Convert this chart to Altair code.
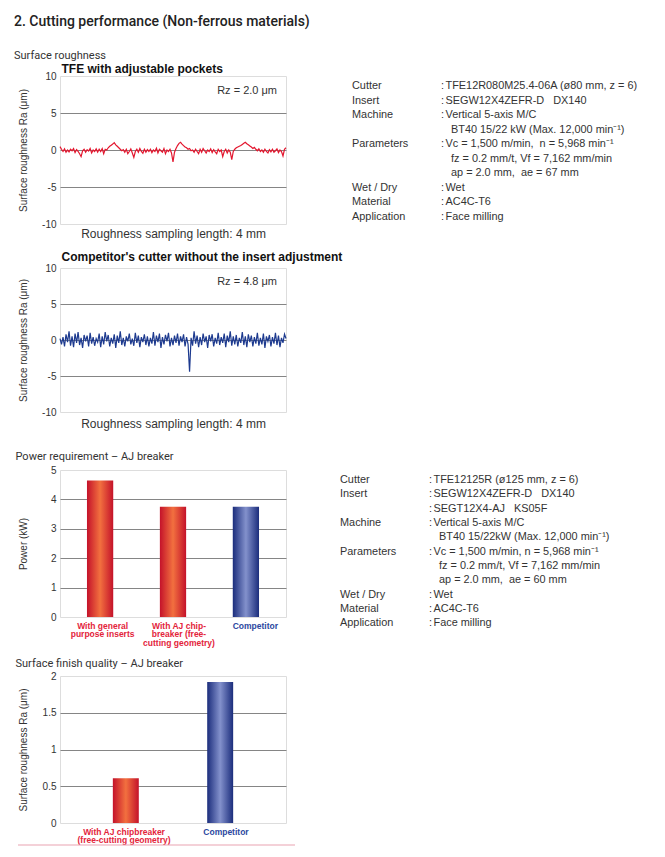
import altair as alt
import pandas as pd

# ---------------- text ----------------
HEADING = "2. Cutting performance (Non-ferrous materials)"
SECTION1 = "Surface roughness"
TITLE_TFE = "TFE with adjustable pockets"
TITLE_COMP = "Competitor's cutter without the insert adjustment"
X_TITLE = "Roughness sampling length: 4 mm"
Y_TITLE_RA = "Surface roughness Ra (μm)"
RZ_TFE = "Rz = 2.0 μm"
RZ_COMP = "Rz = 4.8 μm"
POWER_TITLE = "Power requirement – AJ breaker"
FINISH_TITLE = "Surface finish quality – AJ breaker"

# ---------------- roughness profiles (μm) ----------------
ra_ticks = [-10, -5, 0, 5, 10]

tfe_profile = [
    0.45, 0.1, -0.2, 0.15, -0.3, 0.0, -0.25, 0.1,
    -0.1, 0.2, -0.35, 0.05, -0.2, -0.5, -0.9,
    -0.1, 0.1, -0.3, 0.05, -0.15, 0.2, -0.4, 0.0, -0.2, 0.15,
    -0.3, 0.1, -0.2, 0.2, -0.5, 0.1, 0.0, 0.3,
    0.5, 0.65, 0.8, 1.0,
    0.7, 0.5, 0.3, 0.1, -0.1, 0.05,
    -0.3, 0.1, -0.5, -0.2, 0.15, -0.4, -1.0, -0.2,
    0.1, -0.3, 0.2, -0.2, -0.45, 0.1, -0.3, 0.05, -0.2, 0.1,
    -0.35, 0.0, -0.2, 0.25, -0.4, 0.1, -0.1, -0.3, 0.2, -0.5, 0.0, -0.2, 0.1,
    -0.4, -1.6, -0.3, 0.2,
    0.6, 0.9, 1.05, 0.8,
    0.6, 0.4, 0.3, 0.1, 0.2, -0.1, 0.0,
    -0.3, 0.1, -0.2, -0.5, 0.1, -0.3, 0.2, -0.1, -0.4, 0.0, -0.2, 0.15, -0.35,
    0.05, -0.25, -0.5, 0.1, -0.2, 0.0,
    -0.9, -0.2, 0.1, -0.4, 0.0, -0.3, -1.3, -0.2, 0.1, 0.3, 0.4,
    0.5, 0.6, 0.75, 0.9, 1.05, 0.85, 0.7,
    0.55, 0.4, 0.2, 0.35, 0.1, -0.1, 0.15, -0.2,
    0.0, -0.3, 0.1, -0.2, -0.4, 0.05, -0.25, 0.1, -0.3, -0.1, 0.15, -0.35,
    0.0, -0.2, -0.8, 0.1, 0.3,
]

comp_profile = [
    0.2, -0.6, 0.4, -0.9, 0.8, -0.3, 1.2, -0.8, 0.5, -1.0,
    0.9, -0.4, 1.1, -0.7, 0.3, -1.1, 0.7, -0.2, 0.6, -0.9,
    1.0, -0.5, 0.4, -0.8, 0.2, -0.3, 0.9, -1.0, 0.5, -0.6,
    1.1, -0.2, 0.7, -0.9, 0.3, -0.5, 0.8, -1.1, 0.6, -0.4,
    1.2, -0.7, 0.3, -0.9, 0.5, -0.2, 0.9, -0.6, 0.2, -0.8,
    1.0, -0.4, 0.6, -1.0, 0.4, -0.3, 0.8, -0.7, 0.5, -0.9,
    0.3, -0.5, 1.1, -0.8, 0.6, -0.3, 0.9, -1.1, 0.4, -0.6,
    0.7, -0.2, 1.0, -0.9, 0.3, -0.7, 0.6, -0.4, 0.9, -0.8,
    0.5, -0.3, 0.8, -0.9, 0.4, -0.6, -4.4, 0.3, -0.8, 1.2,
    -0.5, 0.6, -1.0, 0.4, -0.7, 0.9, -0.3, 0.5, -1.1, 0.7,
    -0.2, 0.8, -0.9, 0.3, -0.5, 1.0, -0.7, 0.4, -0.4, 0.9,
    -1.0, 0.6, -0.3, 1.2, -0.8, 0.5, -0.6, 0.7, -0.9, 0.3,
    -0.4, 1.1, -0.7, 0.5, -1.0, 0.8, -0.3, 0.6, -0.9, 0.4,
    -0.5, 1.0, -0.8, 0.3, -0.6, 0.9, -1.1, 0.5, -0.2, 0.7,
    -0.9, 0.4, -0.5, 1.0, -0.7, 0.6, -1.0, 0.3, -0.4, 0.8, 0.2,
]

# ---------------- power requirement (kW) ----------------
power_labels = ["With general|purpose inserts",
                "With AJ chip-|breaker (free-|cutting geometry)",
                "Competitor"]
power_kw = [4.64, 3.75, 3.75]
power_maker = ["own", "own", "competitor"]
power_ticks = [0, 1, 2, 3, 4, 5]

# ---------------- surface finish (Ra μm) ----------------
finish_labels = ["With AJ chipbreaker|(free-cutting geometry)", "Competitor"]
finish_ra = [0.61, 1.92]
finish_maker = ["own", "competitor"]
finish_ticks = [0, 0.5, 1, 1.5, 2]

# ---------------- test conditions ----------------
spec1_label = ["Cutter", "Insert", "Machine", "", "Parameters", "", "",
               "Wet / Dry", "Material", "Application"]
spec1_kind = ["first", "first", "first", "cont", "first", "cont", "cont",
              "first", "first", "first"]
spec1_text = ["TFE12R080M25.4-06A (ø80 mm, z = 6)",
              "SEGW12X4ZEFR-D\u00a0\u00a0 DX140",
              "Vertical 5-axis M/C",
              "BT40 15/22 kW (Max. 12,000 min⁻¹)",
              "Vc = 1,500 m/min,\u00a0 n = 5,968 min⁻¹",
              "fz = 0.2 mm/t, Vf = 7,162 mm/min",
              "ap = 2.0 mm,\u00a0 ae = 67 mm",
              "Wet", "AC4C-T6", "Face milling"]

spec2_label = ["Cutter", "Insert", "", "Machine", "", "Parameters", "", "",
               "Wet / Dry", "Material", "Application"]
spec2_kind = ["first", "first", "first", "first", "cont", "first", "cont", "cont",
              "first", "first", "first"]
spec2_text = ["TFE12125R (ø125 mm, z = 6)",
              "SEGW12X4ZEFR-D\u00a0\u00a0 DX140",
              "SEGT12X4-AJ\u00a0\u00a0 KS05F",
              "Vertical 5-axis M/C",
              "BT40 15/22kW (Max. 12,000 min⁻¹)",
              "Vc = 1,500 m/min, n = 5,968 min⁻¹",
              "fz = 0.2 mm/t, Vf = 7,162 mm/min",
              "ap = 2.0 mm,\u00a0 ae = 60 mm",
              "Wet", "AC4C-T6", "Face milling"]

# ---------------- styles ----------------
FONT = "Liberation Sans"
TXT = "#333333"
LINE_RED = "#e3172f"
LINE_BLUE = "#1d3a8f"
GRID = "#858585"
LBL_RED = "#e3243b"
LBL_BLUE = "#2c47a0"
PLOT_W = 226

red_grad = alt.Gradient(
    gradient="linear", x1=0, x2=1, y1=0, y2=0,
    stops=[alt.GradientStop(color="#c4122a", offset=0),
           alt.GradientStop(color="#f2703f", offset=0.5),
           alt.GradientStop(color="#c4122a", offset=1)])
blue_grad = alt.Gradient(
    gradient="linear", x1=0, x2=1, y1=0, y2=0,
    stops=[alt.GradientStop(color="#1b2d7c", offset=0),
           alt.GradientStop(color="#8391cc", offset=0.5),
           alt.GradientStop(color="#1b2d7c", offset=1)])


def y_axis(title, values, fmt=None):
    lo, hi = values[0], values[-1]
    kw = dict(title=title, values=values, tickCount=len(values), ticks=False,
              domain=False, grid=True, gridColor=GRID, gridWidth=1,
              gridOpacity=alt.expr(f"datum.value == {lo} || datum.value == {hi} ? 0 : 1"),
              labelExpr="replace(datum.label, '\u2212', '-')",
              labelPadding=4, labelFont=FONT, labelFontSize=10, labelColor=TXT,
              labelOverlap=False, labelBound=False, labelFlush=False,
              titleFont=FONT, titleFontSize=10, titleFontWeight="normal",
              titleColor=TXT, titleX=-36.3, titleBaseline="middle")
    if fmt:
        kw["format"] = fmt
    return alt.Axis(**kw)


def profile_chart(values, color, title, title_offset, rz, rz_y, height, xtitle_y):
    n = len(values)
    df = pd.DataFrame({"sample": list(range(n)), "ra": values})
    yscale = alt.Scale(domain=[-10, 10], nice=False)
    line = alt.Chart(df).mark_line(color=color, strokeWidth=1.2).encode(
        x=alt.X("sample:Q", scale=alt.Scale(domain=[0, n - 1], nice=False, zero=False),
                axis=alt.Axis(title=X_TITLE, labels=False, ticks=False, domain=False,
                              grid=False, titleFont=FONT, titleFontSize=12,
                              titleFontWeight="normal", titleColor=TXT,
                              titleY=xtitle_y, titleBaseline="middle")),
        y=alt.Y("ra:Q", scale=yscale, axis=y_axis(Y_TITLE_RA, ra_ticks)))
    rzt = alt.Chart(pd.DataFrame({"t": [rz]})).mark_text(
        align="right", baseline="middle", font=FONT, fontSize=11, color=TXT).encode(
        text="t:N", x=alt.value(PLOT_W - 9), y=alt.value(rz_y))
    return alt.layer(line, rzt).properties(
        width=PLOT_W, height=height,
        title=alt.TitleParams(title, anchor="start", frame="group", font=FONT,
                              fontSize=12, fontWeight="bold", color="#111111",
                              offset=title_offset, dx=1.5))


def bar_chart(labels, vals, makers, title, title_offset, ticks, ytitle, fmt,
              p_in, p_out, offsets, extra=None):
    df = pd.DataFrame({"cat": labels, "v": vals, "maker": makers})
    yscale = alt.Scale(domain=[ticks[0], ticks[-1]], nice=False)
    off_expr = " : ".join(
        [f"datum.value == '{c}' ? {o}" for c, o in zip(labels[:-1], offsets[:-1])]
        + [str(offsets[-1])])
    x_enc = alt.X("cat:N", sort=labels,
                  scale=alt.Scale(domain=labels, paddingInner=p_in, paddingOuter=p_out),
                  axis=alt.Axis(title=None, ticks=False, domain=False, grid=False,
                                labelAngle=0, labelExpr="split(datum.label, '|')",
                                labelFont=FONT, labelFontSize=8.5,
                                labelFontWeight="bold", labelLineHeight=8.5,
                                labelBaseline="top", labelPadding=4,
                                labelOverlap=False,
                                labelOffset=alt.expr(off_expr),
                                labelColor=alt.expr(
                                    f"datum.value == 'Competitor' ? '{LBL_BLUE}' : '{LBL_RED}'")))
    y_enc = alt.Y("v:Q", scale=yscale, axis=y_axis(ytitle, ticks, fmt))
    own = alt.Chart(df).transform_filter("datum.maker == 'own'").mark_bar(
        color=red_grad).encode(x=x_enc, y=y_enc)
    comp = alt.Chart(df).transform_filter("datum.maker == 'competitor'").mark_bar(
        color=blue_grad).encode(x=x_enc, y=y_enc)
    layers = [own, comp]
    if extra is not None:
        layers.append(extra)
    return alt.layer(*layers).properties(
        width=PLOT_W, height=147,
        title=alt.TitleParams(title, anchor="start", frame="group", font="Roboto",
                              fontSize=11, fontWeight="normal", color=TXT,
                              offset=title_offset, dx=-44.5))


def spec_chart(labels, kinds, texts, height, first, step, x0):
    df = pd.DataFrame({"line": list(range(len(texts))), "label": labels,
                       "kind": kinds, "text": texts})
    lo = -first / step
    hi = lo + height / step
    yenc = alt.Y("line:Q", scale=alt.Scale(domain=[lo, hi], reverse=True, nice=False,
                                           zero=False), axis=None)
    base = alt.Chart(df)
    style = dict(align="left", baseline="middle", font=FONT, fontSize=10.9, color=TXT)
    lab = base.transform_filter("datum.label != ''").mark_text(**style).encode(
        y=yenc, text="label:N", x=alt.value(x0))
    colon = base.transform_filter("datum.kind == 'first'").mark_text(**style).encode(
        y=yenc, text=alt.value(":"), x=alt.value(x0 + 89))
    val = base.transform_filter("datum.kind == 'first'").mark_text(**style).encode(
        y=yenc, text="text:N", x=alt.value(x0 + 93.5))
    cont = base.transform_filter("datum.kind == 'cont'").mark_text(**style).encode(
        y=yenc, text="text:N", x=alt.value(x0 + 99))
    return alt.layer(lab, colon, val, cont).properties(
        width=280, height=height, view=alt.ViewBackground(stroke="transparent"))


chart1 = profile_chart(tfe_profile, LINE_RED, TITLE_TFE, -5, RZ_TFE, 15, 148, 9)
chart2 = profile_chart(comp_profile, LINE_BLUE, TITLE_COMP, -1, RZ_COMP, 14, 144, 11)

spec1 = spec_chart(spec1_label, spec1_kind, spec1_text, 148, 10, 14.55, 0)
spec2 = spec_chart(spec2_label, spec2_kind, spec2_text, 162, 10, 14.33, -12)
spacer = alt.Chart(pd.DataFrame({"t": [""]})).mark_text().encode(text="t:N").properties(
    width=280, height=158, view=alt.ViewBackground(stroke="transparent"))

power = bar_chart(power_labels, power_kw, power_maker, POWER_TITLE, 3, power_ticks,
                  "Power (kW)", None, 0.64, 0.37, [2.5, 6, 9.5])

separator = alt.Chart(pd.DataFrame({"k": [0]})).mark_rule(
    color="#e9a3b1", strokeWidth=1.2).encode(
    x=alt.value(-42), x2=alt.value(235), y=alt.value(169))

finish = bar_chart(finish_labels, finish_ra, finish_maker, FINISH_TITLE, 2, finish_ticks,
                   "Surface roughness Ra (μm)", "~g", 0.725, 0.56,
                   [-1.8, 5.8], extra=separator)

chart = alt.ConcatChart(
    concat=[chart1, spec1, chart2, spacer, power, spec2, finish],
    columns=2,
    bounds="flush",
    align="each",
    spacing=alt.RowColnumber(row=44, column=66),
).properties(
    title=alt.TitleParams(
        HEADING, subtitle=SECTION1, anchor="start", frame="bounds",
        font="Roboto", fontSize=14, fontWeight=500, color="#222222",
        subtitleFont="Roboto", subtitleFontSize=11, subtitleColor=TXT,
        subtitlePadding=21, offset=2, dx=-1),
    padding={"left": 6, "top": 6, "right": 5, "bottom": 5},
).configure_view(stroke="#4a4a4a", strokeWidth=1.5).configure(background="white")

chart.save("out.html", embed_options={"renderer": "svg", "actions": False})
